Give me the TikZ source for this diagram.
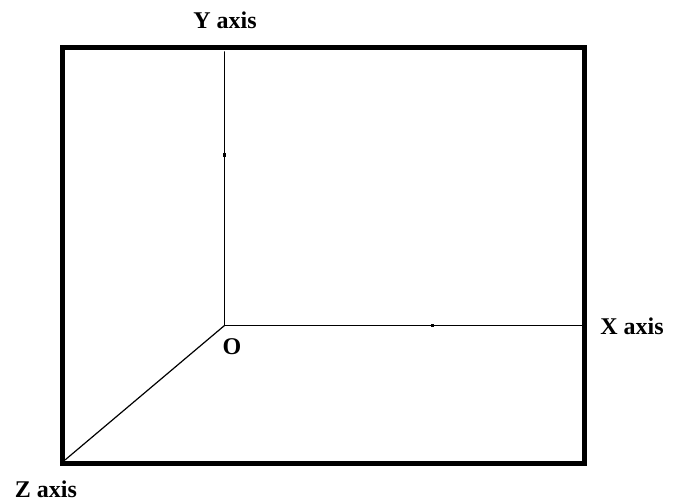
\documentclass[tikz,border=0pt]{standalone}
\usepackage{fontspec}
\setmainfont{Liberation Serif}
\begin{document}
\begin{tikzpicture}[x=1pt,y=-1pt,
  frame/.style={line width=5pt},
  axis/.style={line width=1.6pt, line cap=round},
  lbl/.style={font=\fontsize{24}{26}\selectfont\bfseries, inner sep=0pt}]
\useasboundingbox (0,0) rectangle (686,502);
\draw[frame] (62,47.5) rectangle (584,464);
\coordinate (O) at (224.5,325.5);
\coordinate (Yend) at (224.5,52);
\coordinate (Xend) at (582,325.5);
\coordinate (Zend) at (65,460);
\draw[axis] (O) -- (Yend);
\draw[axis] (O) -- (Xend);
\draw[line width=1.2pt] (O) -- (Zend);
\draw[line width=3pt] (224.5,153) -- (224.5,157);
\draw[line width=3pt] (431,325.5) -- (434,325.5);
\node[lbl] (ylbl) at (225,20) {Y axis};
\node[lbl] (xlbl) at (632,326) {X axis};
\node[lbl] (zlbl) at (46,489) {Z axis};
\node[lbl] (olbl) at (232,347) {O};
\end{tikzpicture}
\end{document}
